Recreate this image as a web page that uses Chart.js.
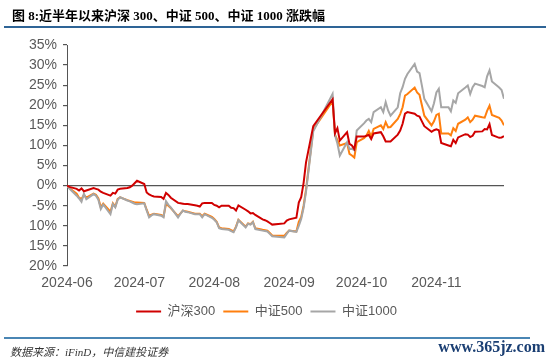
<!DOCTYPE html>
<html><head><meta charset="utf-8">
<script src="https://cdn.jsdelivr.net/npm/chart.js@4.4.1/dist/chart.umd.min.js"></script>
<style>
html,body{margin:0;padding:0;background:#fff;}
#wrap{position:relative;width:550px;height:358px;overflow:hidden;background:#fff;}
canvas{position:absolute;left:0;top:0;}
#title{position:absolute;left:12px;top:5px;font:bold 13px "Liberation Serif","Noto Sans CJK SC";color:#000;white-space:nowrap;}
#topline{position:absolute;left:4px;top:26px;width:542px;height:2px;background:#2e6496;}
#botline{position:absolute;left:4px;top:337px;width:526px;height:2px;background:#4a86b4;}
#src{position:absolute;left:10px;top:343px;font:italic 11px "Liberation Serif","Noto Sans CJK SC";color:#333;white-space:nowrap;}
#wm{position:absolute;right:5px;top:338px;font:bold 16px "Liberation Serif";color:#1b3f73;white-space:nowrap;}
</style></head>
<body><div id="wrap">
<canvas id="c" width="550" height="358"></canvas>
<div id="title">图 8:近半年以来沪深 300、中证 500、中证 1000 涨跌幅</div>
<div id="topline"></div>
<div id="botline"></div>
<div id="src">数据来源：iFinD，中信建投证券</div>
<div id="wm">www.365jz.com</div>
</div>
<script>
const dates = [
'2024-06-20','2024-06-21','2024-06-24','2024-06-25','2024-06-26','2024-06-27','2024-06-28',
'2024-07-01','2024-07-02','2024-07-03','2024-07-04','2024-07-05','2024-07-08','2024-07-09','2024-07-10','2024-07-11','2024-07-12',
'2024-07-15','2024-07-16','2024-07-17','2024-07-18','2024-07-19','2024-07-22','2024-07-23','2024-07-24','2024-07-25','2024-07-26',
'2024-07-29','2024-07-30','2024-07-31',
'2024-08-01','2024-08-02','2024-08-05','2024-08-06','2024-08-07','2024-08-08','2024-08-09','2024-08-12','2024-08-13','2024-08-14',
'2024-08-15','2024-08-16','2024-08-19','2024-08-20','2024-08-21','2024-08-22','2024-08-23','2024-08-26','2024-08-27','2024-08-28',
'2024-08-29','2024-08-30',
'2024-09-02','2024-09-03','2024-09-04','2024-09-05','2024-09-06','2024-09-09','2024-09-10','2024-09-11','2024-09-12','2024-09-13',
'2024-09-18','2024-09-19','2024-09-20','2024-09-23','2024-09-24','2024-09-25','2024-09-26','2024-09-27','2024-09-30',
'2024-10-08','2024-10-09','2024-10-10','2024-10-11','2024-10-14','2024-10-15','2024-10-16','2024-10-17','2024-10-18',
'2024-10-21','2024-10-22','2024-10-23','2024-10-24','2024-10-25','2024-10-28','2024-10-29','2024-10-30','2024-10-31',
'2024-11-01','2024-11-04','2024-11-05','2024-11-06','2024-11-07','2024-11-08','2024-11-11','2024-11-12','2024-11-13','2024-11-14',
'2024-11-15','2024-11-18','2024-11-19','2024-11-20','2024-11-21','2024-11-22','2024-11-25','2024-11-26','2024-11-27','2024-11-28',
'2024-11-29',
'2024-12-02','2024-12-03','2024-12-04','2024-12-05','2024-12-06','2024-12-09','2024-12-10','2024-12-11','2024-12-12','2024-12-13',
'2024-12-16','2024-12-17','2024-12-18'];

const hs300 = [
0,-0.3,-0.8,-1.2,-0.7,-1.4,-1.2,
-0.6,-0.8,-1.0,-1.5,-1.8,-2.5,-1.8,-2.0,-1.0,-0.8,
-0.6,-0.4,0.0,0.6,1.2,0.4,-1.7,-2.2,-2.5,-2.7,
-2.8,-3.3,-1.8,
-2.3,-3.0,-4.3,-4.4,-4.5,-4.6,-4.6,-4.9,-5.0,-5.2,
-4.4,-4.3,-4.3,-4.8,-5.0,-5.4,-5.0,-5.0,-5.5,-5.6,
-6.2,-4.9,
-6.0,-6.4,-6.9,-6.8,-7.3,-8.4,-8.6,-8.9,-9.3,-9.7,
-9.4,-8.7,-8.4,-8.0,-4.2,-2.9,0.7,5.8,14.8,
21.5,13.0,14.3,11.2,13.3,10.4,10.0,9.1,12.2,
12.2,12.4,12.6,11.6,13.0,13.3,12.3,11.0,11.0,
11.0,12.7,13.7,15.4,17.9,18.3,17.9,17.4,17.2,16.0,
14.8,13.4,13.8,14.0,13.8,10.6,10.0,9.8,11.4,10.6,
12.0,
12.8,12.7,12.1,12.4,13.4,13.5,14.1,14.0,15.3,12.6,
11.9,12.0,12.3];

const zz500 = [
0,-0.6,-2.0,-3.0,-3.3,-2.3,-3.0,
-2.0,-2.3,-3.2,-5.4,-4.5,-6.5,-4.4,-5.2,-3.3,-2.9,
-3.6,-3.8,-4.0,-4.2,-4.2,-4.3,-6.0,-7.5,-7.2,-7.0,
-7.3,-7.6,-4.6,
-5.0,-5.6,-7.6,-6.9,-6.2,-6.4,-6.5,-7.0,-7.0,-7.0,
-7.6,-7.0,-7.8,-8.3,-9.0,-10.4,-10.6,-10.8,-11.1,-11.4,
-10.2,-8.5,
-10.2,-9.4,-9.6,-9.0,-10.6,-11.0,-11.1,-11.2,-11.8,-12.4,
-12.5,-11.8,-11.2,-11.4,-9.0,-7.8,-5.0,-1.0,14.0,
21.0,12.7,11.3,10.0,10.6,7.9,7.5,7.0,10.8,
11.8,12.4,13.6,12.2,14.1,15.0,14.1,15.8,14.5,
14.6,16.6,17.8,19.5,22.4,22.8,24.4,23.2,22.6,20.0,
17.4,15.0,16.0,17.6,17.9,13.0,13.0,12.5,14.3,13.6,
15.4,
16.4,17.0,15.8,16.4,17.4,17.0,16.9,18.6,19.9,17.6,
16.9,16.2,15.0];

const zz1000 = [
0,-0.7,-2.5,-3.2,-4.0,-2.0,-3.4,
-2.1,-2.5,-3.5,-5.8,-4.7,-7.1,-4.6,-5.4,-3.5,-2.9,
-3.7,-3.9,-4.2,-4.5,-4.6,-4.4,-6.2,-7.9,-7.4,-7.1,
-7.5,-7.9,-3.9,
-4.8,-5.4,-7.9,-7.0,-6.2,-6.5,-6.6,-7.1,-7.1,-7.1,
-7.9,-7.1,-8.0,-8.5,-9.1,-10.6,-10.8,-11.0,-11.3,-11.6,
-10.4,-8.6,
-10.4,-9.5,-9.7,-9.1,-10.8,-11.2,-11.3,-11.4,-12.0,-12.6,
-12.9,-12.0,-11.2,-11.5,-10.0,-8.3,-5.5,-1.5,13.5,
22.8,12.5,10.5,7.5,10.8,9.1,9.2,8.8,13.7,
15.5,16.2,16.6,15.8,18.3,19.5,18.3,20.8,18.7,
17.4,19.5,23.0,24.5,26.6,27.8,30.3,28.4,28.0,24.9,
21.6,18.5,20.5,23.2,24.1,19.5,19.5,18.5,21.2,20.6,
23.0,
24.4,24.9,22.8,24.5,25.4,24.8,24.5,27.2,28.7,25.9,
24.4,23.8,21.6];

const tickDates = ['2024-06-20','2024-07-20','2024-08-20','2024-09-20','2024-10-20','2024-11-20'];
const yTicks = [-20,-15,-10,-5,0,5,10,15,20,25,30,35];

const dayOf = s => Date.UTC(+s.slice(0,4), +s.slice(5,7)-1, +s.slice(8,10)) / 864e5;
const base = dayOf(dates[0]);
const toX = s => dayOf(s) - base;
const pts = arr => dates.map((d,i) => ({x: toX(d), y: arr[i]}));

const axisFont = {family:'"Liberation Sans","Noto Sans CJK SC"', size:14};
const legFont = {family:'"Liberation Sans","Noto Sans CJK SC"', size:13};

new Chart(document.getElementById('c'), {
  type:'line',
  data:{datasets:[
    {label:'沪深300', data:pts(hs300), borderColor:'#D00000', backgroundColor:'#D00000', borderWidth:2, pointRadius:0, order:1},
    {label:'中证500', data:pts(zz500), borderColor:'#FF7F0E', backgroundColor:'#FF7F0E', borderWidth:2, pointRadius:0, order:3},
    {label:'中证1000', data:pts(zz1000), borderColor:'#A6A6A6', backgroundColor:'#A6A6A6', borderWidth:2, pointRadius:0, order:2}
  ]},
  options:{
    responsive:false, animation:false,
    layout:{padding:{left:29, right:46, top:45, bottom:30}},
    scales:{
      x:{type:'linear', min:0, max:toX(dates[dates.length-1]),
        afterBuildTicks: s => { s.ticks = tickDates.map(d => ({value: toX(d)})); },
        afterFit: s => { s.height = 31; },
        ticks:{callback:(v,i) => tickDates[i].slice(0,7), color:'#595959', font:axisFont, padding:9, maxRotation:0, autoSkip:false},
        grid:{display:false, drawTicks:false}, border:{display:false}},
      y:{min:-20, max:35,
        afterBuildTicks: s => { s.ticks = yTicks.map(v => ({value:v})); },
        afterFit: s => { s.width = 38; },
        ticks:{callback:v => v + '%', color:'#595959', font:axisFont, padding:6},
        grid:{color:c => (c.tick && c.tick.value === 0) ? '#555555' : 'rgba(0,0,0,0)', tickColor:'#555555', tickLength:4, lineWidth:1.2},
        border:{color:'#555555', width:1}}
    },
    plugins:{
      legend:{position:'bottom', labels:{usePointStyle:true, pointStyle:'line', pointStyleWidth:25, padding:8, color:'#595959', font:legFont, sort:(a,b)=>a.datasetIndex-b.datasetIndex}},
      tooltip:{enabled:false}
    }
  }
});
</script>
</body></html>
